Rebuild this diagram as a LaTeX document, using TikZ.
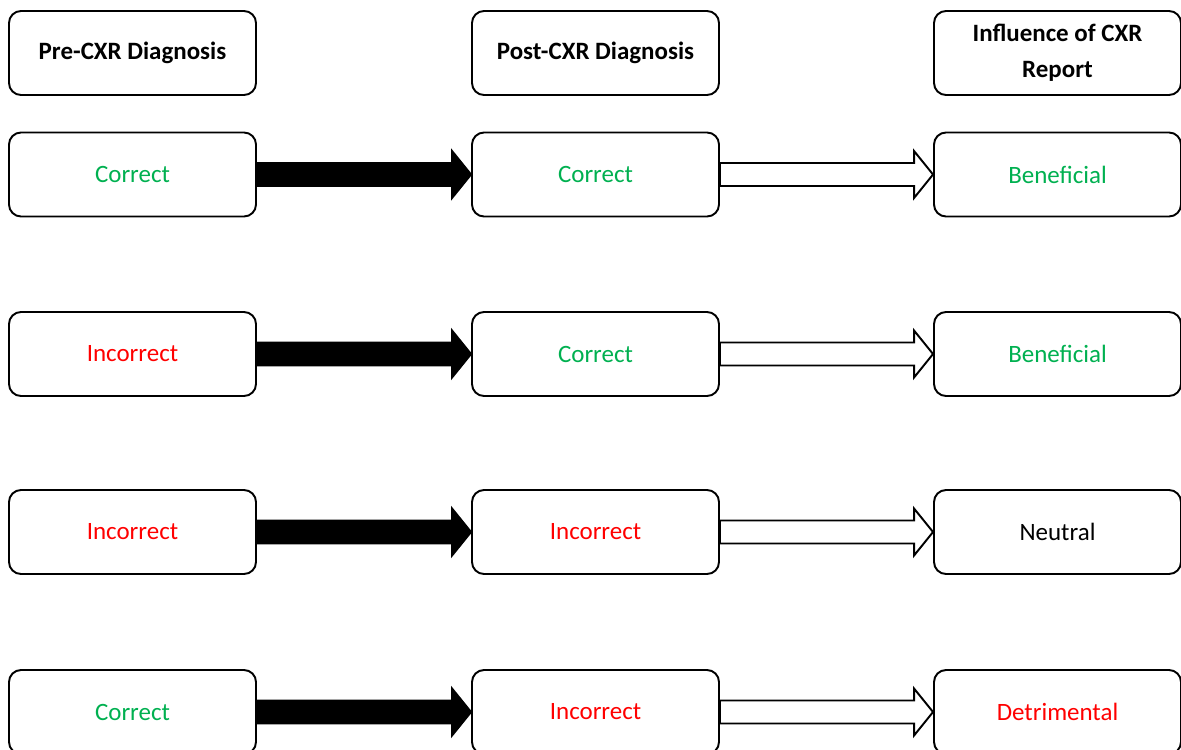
\documentclass[tikz,border=0pt]{standalone}
\usepackage{fontspec}
\setmainfont{Carlito}
\usetikzlibrary{calc}
\definecolor{okgreen}{RGB}{0,176,80}
\definecolor{badred}{RGB}{255,0,0}
\tikzset{
	box/.style={draw, rounded corners=0.24cm, line width=1.1pt, minimum width=4.94cm, minimum height=1.68cm, align=center, font=\fontsize{14.2}{17}\selectfont},
	headbox/.style={box, font=\bfseries\fontsize{14.2}{20.5}\selectfont},
}
% block arrow between two named nodes, #1 = fill
\newcommand{\blockarrow}[3][black]{%
	\path[draw=black, line width=1.1pt, fill=#1, line join=miter] let \p1=(#2.east), \p2=(#3.west) in
	(\x1,\y1+0.23cm) -- (\x2-0.38cm,\y1+0.23cm) -- (\x2-0.38cm,\y1+0.47cm) -- (\x2,\y1)
	-- (\x2-0.38cm,\y1-0.47cm) -- (\x2-0.38cm,\y1-0.23cm) -- (\x1,\y1-0.23cm) -- cycle;}
\begin{document}
\begin{tikzpicture}
		\def\xa{2.65} \def\xb{11.91} \def\xc{21.15}
		\useasboundingbox (0,0) rectangle (23.62,-14.98);
		% headers
		\node[headbox] (hpre) at (\xa,-1.06) {Pre-CXR Diagnosis};
		\node[headbox] (hpost) at (\xb,-1.06) {Post-CXR Diagnosis};
		\node[headbox] (hinf) at (\xc,-1.06) {Influence of CXR\\Report};
		% row 1
		\node[box, text=okgreen] (pre1) at (\xa,-3.49) {Correct};
		\node[box, text=okgreen] (post1) at (\xb,-3.49) {Correct};
		\node[box, text=okgreen] (inf1) at (\xc,-3.49) {Beneficial};
		% row 2
		\node[box, text=badred] (pre2) at (\xa,-7.08) {Incorrect};
		\node[box, text=okgreen] (post2) at (\xb,-7.08) {Correct};
		\node[box, text=okgreen] (inf2) at (\xc,-7.08) {Beneficial};
		% row 3
		\node[box, text=badred] (pre3) at (\xa,-10.64) {Incorrect};
		\node[box, text=badred] (post3) at (\xb,-10.64) {Incorrect};
		\node[box] (inf3) at (\xc,-10.64) {Neutral};
		% row 4
		\node[box, text=okgreen] (pre4) at (\xa,-14.24) {Correct};
		\node[box, text=badred] (post4) at (\xb,-14.24) {Incorrect};
		\node[box, text=badred] (inf4) at (\xc,-14.24) {Detrimental};
		% arrows
		\blockarrow{pre1}{post1} \blockarrow[white]{post1}{inf1}
		\blockarrow{pre2}{post2} \blockarrow[white]{post2}{inf2}
		\blockarrow{pre3}{post3} \blockarrow[white]{post3}{inf3}
		\blockarrow{pre4}{post4} \blockarrow[white]{post4}{inf4}
\end{tikzpicture}
\end{document}
